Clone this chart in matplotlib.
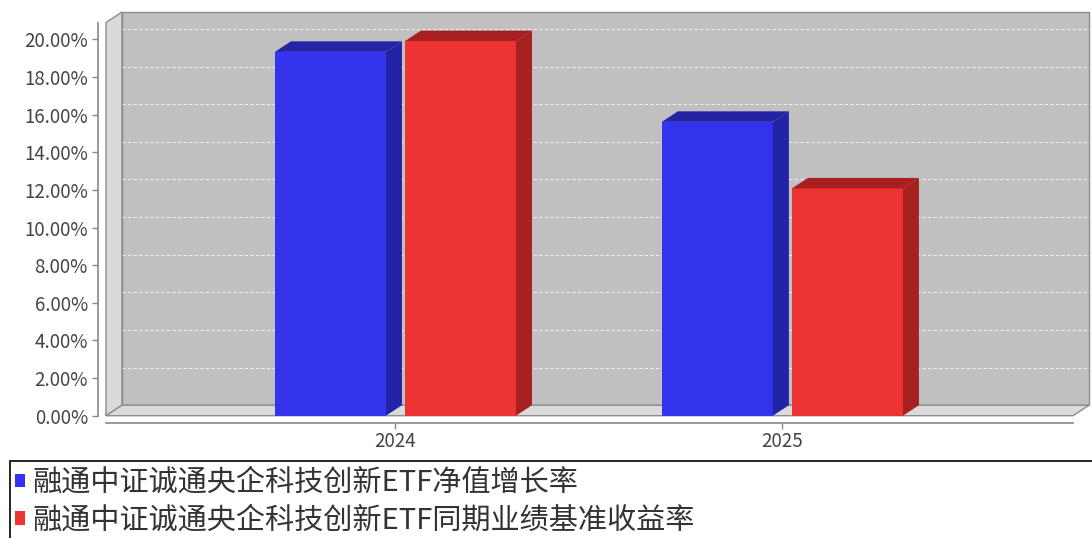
import matplotlib.pyplot as plt
from matplotlib.patches import Polygon, Rectangle
from matplotlib.ticker import FuncFormatter, MultipleLocator

plt.rcParams['font.family'] = ['Noto Sans CJK SC', 'DejaVu Sans']

# data
years = ["2024", "2025"]
nav_growth = [19.34, 15.62]
benchmark = [19.91, 12.08]
series_names = ["融通中证诚通央企科技创新ETF净值增长率",
                "融通中证诚通央企科技创新ETF同期业绩基准收益率"]

front_colors = ["#3333ee", "#ee3333"]
dark_colors = ["#2323a6", "#a81f1f"]

W, H = 1092, 538
fig = plt.figure(figsize=(W / 100, H / 100), dpi=100)
ax = fig.add_axes([106 / W, 1 - 415.7 / H, (1073 - 106) / W, (415.7 - 22.5) / H])
ax.set_xlim(-0.748, 1.751)
ax.set_ylim(0, 20.9)
ax.patch.set_visible(False)

# 3d depth offset, 16 x 10.5 pixels, converted to data units
inv = ax.transData.inverted()
p0 = inv.transform((0, 0))
p1 = inv.transform((16, 10.5))
ddx, ddy = p1 - p0

x0, x1 = ax.get_xlim()
y0, y1 = ax.get_ylim()
edge = "#8c8c8c"

# walls
ax.add_patch(Rectangle((x0 + ddx, y0 + ddy), x1 - x0, y1 - y0, facecolor="#c0c0c0",
                       edgecolor=edge, lw=1, clip_on=False, zorder=0))
ax.add_patch(Polygon([(x0, y0), (x0 + ddx, y0 + ddy), (x0 + ddx, y1 + ddy), (x0, y1)],
                     facecolor="#dadada", edgecolor=edge, lw=1, clip_on=False, zorder=1))
ax.add_patch(Polygon([(x0, y0), (x1, y0), (x1 + ddx, y0 + ddy), (x0 + ddx, y0 + ddy)],
                     facecolor="#dadada", edgecolor=edge, lw=1, clip_on=False, zorder=1))

# gridlines on back wall
for v in range(0, 21, 2):
    ax.plot([x0 + ddx, x1 + ddx], [v + ddy, v + ddy], color="#eeeeee", lw=0.8,
            ls=(0, (3, 2)), clip_on=False, zorder=0.5)

# bars
width = 0.287
offsets = [-0.168, 0.168]
for s, vals in enumerate([nav_growth, benchmark]):
    for i, h in enumerate(vals):
        xc = i + offsets[s]
        ax.bar(xc, h, width, color=front_colors[s], zorder=3,
               label=series_names[s] if i == 0 else None)
        l, r = xc - width / 2, xc + width / 2
        ax.add_patch(Polygon([(r, 0), (r + ddx, ddy), (r + ddx, h + ddy), (r, h)],
                             facecolor=dark_colors[s], edgecolor="none",
                             clip_on=False, zorder=3))
        ax.add_patch(Polygon([(l, h), (r, h), (r + ddx, h + ddy), (l + ddx, h + ddy)],
                             facecolor=dark_colors[s], edgecolor="none",
                             clip_on=False, zorder=3))

# axes
ax.spines['top'].set_visible(False)
ax.spines['right'].set_visible(False)
ax.spines['left'].set_position(('outward', 6))
ax.spines['bottom'].set_position(('outward', 5))
for sp in ['left', 'bottom']:
    ax.spines[sp].set_color("#888888")
    ax.spines[sp].set_linewidth(1.2)

ax.yaxis.set_major_locator(MultipleLocator(2))
ax.yaxis.set_major_formatter(FuncFormatter(lambda v, p: f"{v:.2f}%"))
ax.set_xticks([0, 1])
ax.set_xticklabels(years)
ax.tick_params(axis='both', colors="#888888", labelcolor="#444444",
               labelsize=13.5, length=4, width=1)
ax.tick_params(axis='y', pad=3)
ax.tick_params(axis='x', pad=2)

# legend box runs off the right and bottom edge
ax.add_patch(Rectangle((10 / W, -0.1), 1.2, 0.1 + 1 - 461 / H, transform=fig.transFigure,
                       facecolor="white", edgecolor="black", lw=1.2, clip_on=False,
                       zorder=0.1))
leg = ax.legend(loc="upper left", bbox_to_anchor=(15 / W, 1 - 468 / H),
                bbox_transform=fig.transFigure, borderaxespad=0, borderpad=0,
                fontsize=21, frameon=False, handlelength=0.34,
                handleheight=0.34, handletextpad=0.27, labelspacing=0.25)
leg.set_zorder(10)
for t in leg.get_texts():
    t.set_color("#333333")

fig.savefig("out.png", dpi=100)
